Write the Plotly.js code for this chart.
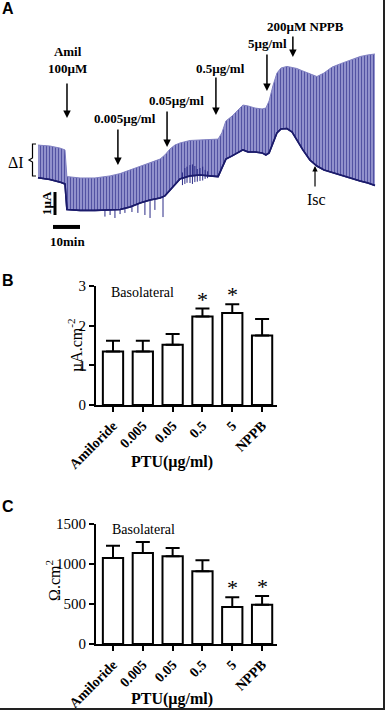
<!DOCTYPE html>
<html><head><meta charset="utf-8">
<script src="https://cdn.plot.ly/plotly-3.0.1.min.js"></script>
<style>html,body{margin:0;padding:0;background:#fff}#chart{width:385px;height:710px}</style>
</head><body><div id="chart"></div><script>
// ---------- Panel A: short-circuit current trace (time in min, current in µA) ----------
const tA    = [0, 4.4, 8.1, 10.0, 10.7, 15.6, 21.1, 26.7, 30.4, 34.1, 37.8, 41.5, 45.2, 47.0, 48.9, 50.7, 52.6, 56.3, 60.0, 63.7, 66.7, 68.1, 69.6, 71.9, 74.1, 75.9, 77.8, 80.4, 83.0, 84.4, 85.6, 87.0, 88.5, 90.0, 92.2, 94.1, 95.9, 98.1, 100.7, 103.3, 105.9, 108.9, 111.9, 115.6, 119.3, 122.2, 124.8];
const iscA  = [1.62, 1.54, 1.43, 1.35, 0.24, 0.20, 0.20, 0.22, 0.24, 0.35, 0.52, 0.65, 0.74, 0.83, 1.09, 1.33, 1.57, 1.70, 1.74, 1.70, 1.67, 2.04, 2.43, 2.57, 2.70, 2.83, 2.74, 2.74, 2.70, 2.61, 2.70, 3.09, 3.57, 3.74, 3.76, 3.61, 3.26, 2.83, 2.39, 2.13, 1.96, 1.85, 1.74, 1.59, 1.48, 1.39, 1.28];
const peakA = [3.04, 3.00, 2.91, 2.83, 1.67, 1.61, 1.61, 1.70, 1.80, 1.96, 2.13, 2.26, 2.43, 2.61, 2.87, 3.04, 3.13, 3.24, 3.26, 3.30, 3.30, 3.57, 4.09, 4.30, 4.57, 4.78, 4.74, 4.65, 4.61, 4.65, 4.96, 5.61, 6.17, 6.39, 6.46, 6.43, 6.37, 6.26, 6.13, 6.02, 6.17, 6.43, 6.57, 6.74, 6.89, 6.96, 7.00];
// noise deflections on the Isc trace
const spikeT  = [24.8, 26.7, 28.5, 30.4, 32.2, 34.8, 37.0, 39.6, 41.5, 43.3, 46.3, 53.5, 54.4, 55.2, 56.3, 57.2, 58.1, 59.0, 60.0, 61.0, 61.9, 62.8];
const spikeHi = [0.22, 0.22, 0.23, 0.24, 0.28, 0.38, 0.47, 0.56, 0.65, 0.70, 0.80, 1.85, 2.04, 2.10, 2.17, 2.20, 2.13, 2.00, 2.04, 2.10, 1.96, 1.90];
const spikeLo = [-0.07, 0.00, -0.13, 0.04, 0.09, 0.13, 0.09, 0.00, -0.13, 0.22, -0.09, 1.30, 1.35, 1.40, 1.39, 1.35, 1.43, 1.45, 1.48, 1.50, 1.57, 1.60];
// additions (arrow tip time, arrow tip current)
const stimText = ['Amil<br>100µM', '0.005µg/ml', '0.05µg/ml', '0.5µg/ml', '5µg/ml', '200µM NPPB'];
const stimT    = [10.74, 29.6, 47.8, 65.9, 84.8, 94.4];
const stimI    = [4.22, 2.17, 2.96, 4.35, 5.39, 6.87];

// ---------- Panels B and C ----------
const cats    = ['Amiloride', '0.005', '0.05', '0.5', '5', 'NPPB'];
const iscMean = [1.35, 1.35, 1.52, 2.23, 2.32, 1.75];
const iscSem  = [0.27, 0.27, 0.27, 0.20, 0.22, 0.42];
const iscSig  = ['', '', '', '*', '*', ''];
const resMean = [1076, 1138, 1096, 909, 463, 492];
const resSem  = [152, 136, 104, 137, 120, 108];
const resSig  = ['', '', '', '', '*', '*'];

const SERIF = '"Liberation Serif", "Times New Roman", serif';
const SANS  = '"Liberation Sans", Arial, sans-serif';
const W = 385, H = 710;
const px = x => x / W;
const py = y => 1 - y / H;

// spike segments
const sx = [], sy = [];
spikeT.forEach((t, i) => { sx.push(t, t, null); sy.push(spikeHi[i], spikeLo[i], null); });

const data = [
  {x: tA, y: iscA, xaxis: 'x', yaxis: 'y', mode: 'lines', line: {color: '#1b1b6b', width: 1.5}, hoverinfo: 'skip'},
  {x: tA, y: peakA, xaxis: 'x', yaxis: 'y', mode: 'lines', fill: 'tonexty',
   fillpattern: {shape: '|', size: 3, solidity: 0.5, fgcolor: '#5252a2', bgcolor: '#a6a6da', fillmode: 'replace'},
   line: {color: '#8080c2', width: 1}, hoverinfo: 'skip'},
  {x: sx, y: sy, xaxis: 'x', yaxis: 'y', mode: 'lines', line: {color: '#2a2a86', width: 1}, hoverinfo: 'skip'},
  {x: tA, y: iscA, xaxis: 'x', yaxis: 'y', mode: 'lines', line: {color: '#1b1b6b', width: 1.6}, hoverinfo: 'skip'},
  {type: 'bar', x: cats, y: iscMean, xaxis: 'x2', yaxis: 'y2', width: 0.68,
   marker: {color: '#fff', line: {color: '#000', width: 2}},
   error_y: {type: 'data', array: iscSem, arrayminus: iscSem.map(() => 0), symmetric: false, color: '#000', thickness: 2, width: 7}},
  {type: 'bar', x: cats, y: resMean, xaxis: 'x3', yaxis: 'y3', width: 0.68,
   marker: {color: '#fff', line: {color: '#000', width: 2}},
   error_y: {type: 'data', array: resSem, arrayminus: resSem.map(() => 0), symmetric: false, color: '#000', thickness: 2, width: 7}}
];

const barX = (dom) => ({
  domain: dom, type: 'category', range: [-0.57, 5.5], showline: true, linewidth: 2, linecolor: '#000',
  ticks: 'outside', ticklen: 5, tickwidth: 2, tickcolor: '#000', tickangle: -45,
  tickfont: {family: SERIF, size: 14, color: '#000', weight: 'bold'}, showgrid: false, zeroline: false, fixedrange: true
});
const barY = (dom, range, vals) => ({
  domain: dom, range: range, tickvals: vals, showline: true, linewidth: 2, linecolor: '#000',
  ticks: 'outside', ticklen: 5, tickwidth: 2, tickcolor: '#000',
  tickfont: {family: SERIF, size: 15, color: '#000'}, showgrid: false, zeroline: false, fixedrange: true
});

const ann = [];
const txt = (x, y, text, size, opts) => ann.push(Object.assign({
  x: px(x), y: py(y), xref: 'paper', yref: 'paper', text: text, showarrow: false,
  xanchor: 'center', yanchor: 'middle', font: {family: SERIF, size: size, color: '#000'}
}, opts || {}));

// panel letters
txt(8, 9, 'A', 16, {font: {family: SANS, size: 16, color: '#000', weight: 'bold'}});
txt(8, 281, 'B', 16, {font: {family: SANS, size: 16, color: '#000', weight: 'bold'}});
txt(8, 506, 'C', 16, {font: {family: SANS, size: 16, color: '#000', weight: 'bold'}});

// stimulus labels and arrows
const stimPos = [[67, 60], [125, 118], [176, 100], [220, 69], [267, 43], [305, 27]];
const stimLen = [36, 37, 37, 39, 38, 22];
stimText.forEach((s, i) => {
  txt(stimPos[i][0], stimPos[i][1], '<b>' + s + '</b>', 13);
  ann.push({x: stimT[i], y: stimI[i], xref: 'x', yref: 'y', ax: 0, ay: -stimLen[i], text: '',
            showarrow: true, arrowhead: 2, arrowsize: 1, arrowwidth: 1.5, arrowcolor: '#000'});
});
// Isc label
txt(316, 199, 'Isc', 16);
ann.push({x: 102.6, y: 2.13, xref: 'x', yref: 'y', ax: 0, ay: 22, text: '', showarrow: true,
          arrowhead: 2, arrowsize: 0.9, arrowwidth: 1.2, arrowcolor: '#000'});
// delta I
txt(16, 162, 'ΔI', 16);
// scale bar labels
txt(46, 203, '<b>1µA</b>', 13, {textangle: -90});
txt(67, 241, '<b>10min</b>', 13);

// panel B texts
txt(142, 292, 'Basolateral', 14);
txt(75, 345, 'µA.cm<sup>-2</sup>', 16, {textangle: -90});
txt(172, 462, '<b>PTU(µg/ml)</b>', 16);
// panel C texts
txt(143, 529, 'Basolateral', 14);
txt(53, 580, 'Ω.cm<sup>2</sup>', 16, {textangle: -90});
txt(172, 699, '<b>PTU(µg/ml)</b>', 16);

// significance asterisks (x given as category index)
cats.forEach((c, i) => {
  if (iscSig[i]) ann.push({x: i, y: iscMean[i] + iscSem[i], xref: 'x2', yref: 'y2', text: iscSig[i], showarrow: false,
    xanchor: 'center', yanchor: 'bottom', yshift: -5, font: {family: SERIF, size: 22, color: '#000'}});
  if (resSig[i]) ann.push({x: i, y: resMean[i] + resSem[i], xref: 'x3', yref: 'y3', text: resSig[i], showarrow: false,
    xanchor: 'center', yanchor: 'bottom', yshift: -5, font: {family: SERIF, size: 22, color: '#000'}});
});

const shapes = [
  // scale bars: 1 µA vertical, 10 min horizontal
  {type: 'line', xref: 'x', yref: 'y', x0: 6.3, x1: 6.3, y0: 0, y1: 1, line: {color: '#000', width: 3}},
  {type: 'line', xref: 'x', yref: 'y', x0: 5.56, x1: 15.56, y0: -0.52, y1: -0.52, line: {color: '#000', width: 4}},
  // ΔI bracket
  {type: 'path', xref: 'paper', yref: 'paper',
   path: `M ${px(36)},${py(144)} L ${px(32.5)},${py(144)} L ${px(32.5)},${py(158)} L ${px(29)},${py(160)} L ${px(32.5)},${py(162)} L ${px(32.5)},${py(176)} L ${px(36)},${py(176)}`,
   line: {color: '#000', width: 1.2}},
  // frame on right and bottom
  {type: 'line', xref: 'paper', yref: 'paper', x0: px(384), x1: px(384), y0: 0, y1: 1, line: {color: '#222', width: 2}},
  {type: 'line', xref: 'paper', yref: 'paper', x0: 0, x1: 1, y0: py(709), y1: py(709), line: {color: '#222', width: 2}}
];

const layout = {
  width: W, height: H, margin: {l: 0, r: 0, t: 0, b: 0},
  paper_bgcolor: '#fff', plot_bgcolor: 'rgba(0,0,0,0)', showlegend: false,
  font: {family: SERIF, color: '#000'},
  xaxis: {domain: [0, 1], range: [-14.07, 128.52], visible: false, fixedrange: true},
  yaxis: {domain: [0.62, 1], range: [-2.383, 9.348], visible: false, fixedrange: true},
  xaxis2: Object.assign(barX([px(96), px(277)]), {anchor: 'y2'}),
  yaxis2: Object.assign(barY([py(405), py(286)], [0, 3], [0, 1, 2, 3]), {anchor: 'x2'}),
  xaxis3: Object.assign(barX([px(96), px(277)]), {anchor: 'y3'}),
  yaxis3: Object.assign(barY([py(644), py(524)], [0, 1500], [0, 500, 1000, 1500]), {anchor: 'x3'}),
  annotations: ann, shapes: shapes
};

Plotly.newPlot('chart', data, layout, {displayModeBar: false, staticPlot: true});
</script></body></html>
